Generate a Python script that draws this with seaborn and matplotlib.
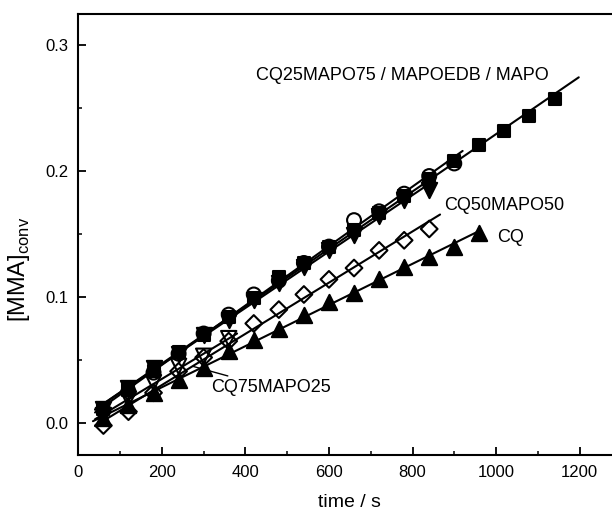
import numpy as np
import pandas as pd
import matplotlib
matplotlib.use("Agg")
import matplotlib.pyplot as plt
import seaborn as sns

# ---------------- data ----------------
t_mapo = [60, 120, 180, 240, 300, 360, 420, 480, 540, 600, 660, 720, 780, 840, 900, 960, 1020, 1080, 1140]
v_mapo = [0.011, 0.026, 0.041, 0.056, 0.070, 0.084, 0.099, 0.116, 0.127, 0.140, 0.153, 0.167, 0.180,
          0.194, 0.208, 0.221, 0.232, 0.244, 0.257]

t_cq25 = [60, 120, 180, 240, 300, 360, 420, 480, 540, 600, 660, 720, 780, 840, 900]
v_cq25 = [0.010, 0.025, 0.040, 0.055, 0.071, 0.086, 0.102, 0.113, 0.127, 0.140, 0.161, 0.168, 0.182,
          0.196, 0.206]

t_edb = [60, 120, 180, 240, 300, 360, 420, 480, 540, 600, 660, 720, 780, 840]
v_edb = [0.011, 0.028, 0.044, 0.055, 0.070, 0.082, 0.098, 0.111, 0.124, 0.137, 0.149, 0.164, 0.177, 0.185]

t_cq75 = [60, 120, 180, 240, 300, 360]
v_cq75 = [0.006, 0.019, 0.032, 0.045, 0.053, 0.067]

t_cq50 = [60, 120, 180, 240, 300, 360, 420, 480, 540, 600, 660, 720, 780, 840]
v_cq50 = [-0.002, 0.009, 0.024, 0.041, 0.052, 0.065, 0.079, 0.090, 0.102, 0.114, 0.123, 0.137, 0.145, 0.154]

t_cq = [60, 120, 180, 240, 300, 360, 420, 480, 540, 600, 660, 720, 780, 840, 900, 960]
v_cq = [0.004, 0.014, 0.024, 0.034, 0.044, 0.057, 0.066, 0.075, 0.086, 0.096, 0.103, 0.114, 0.124,
        0.132, 0.140, 0.151]

# time span covered by each fitted line
fit_mapo = [40, 1198]
fit_cq25 = [40, 920]
fit_edb = [40, 850]
fit_cq75 = [40, 380]
fit_cq50 = [40, 866]
fit_cq = [35, 960]

x_ticks = [0, 200, 400, 600, 800, 1000, 1200]
y_ticks = [0.0, 0.1, 0.2, 0.3]

# ---------------- style ----------------
sns.set_style("ticks")
plt.rcParams['font.family'] = ['Liberation Sans', 'DejaVu Sans']
plt.rcParams['mathtext.fontset'] = 'custom'
plt.rcParams['mathtext.rm'] = 'Liberation Sans'
plt.rcParams['text.color'] = 'black'
plt.rcParams['axes.labelcolor'] = 'black'

fig = plt.figure(figsize=(6.12, 5.15), dpi=100)
ax = fig.add_axes([0.128, 0.1165, 0.8873, 0.8563])

series = [
    (t_mapo, v_mapo, fit_mapo, 's', 'black', 8.5),
    (t_cq25, v_cq25, fit_cq25, 'o', 'none', 10.0),
    (t_edb, v_edb, fit_edb, 'v', 'black', 11.0),
    (t_cq75, v_cq75, fit_cq75, 'v', 'none', 11.0),
    (t_cq50, v_cq50, fit_cq50, 'D', 'none', 8.5),
    (t_cq, v_cq, fit_cq, '^', 'black', 11.0),
]

for t, v, span, mk, fc, ms in series:
    coef = np.polyfit(t, v, 1)
    xs = np.array(span, dtype=float)
    line_df = pd.DataFrame({'t': xs, 'v': np.polyval(coef, xs)})
    sns.lineplot(data=line_df, x='t', y='v', ax=ax, color='black', lw=1.5, zorder=2)
    pts = pd.DataFrame({'t': t, 'v': v})
    sns.scatterplot(data=pts, x='t', y='v', ax=ax, marker=mk, s=ms ** 2,
                    facecolors=fc, edgecolors='black', linewidths=1.5, zorder=3)

ax.set_xlim(0, 1300)
ax.set_ylim(-0.0254, 0.3246)
ax.set_xticks(x_ticks)
ax.set_yticks(y_ticks)
ax.set_xticks(np.arange(100, 1300, 200), minor=True)
ax.set_yticks([0.05, 0.15, 0.25], minor=True)
ax.set_yticklabels([f"{y:.1f}" for y in y_ticks])
ax.tick_params(axis='both', which='major', direction='in', length=6, width=1.3,
               labelsize=12, pad=7, colors='black')
ax.tick_params(axis='both', which='minor', direction='in', length=3, width=1.3)
for sp in ax.spines.values():
    sp.set_linewidth(1.5)
    sp.set_color('black')

ax.set_xlabel('time / s', fontsize=14, labelpad=10)
ax.set_ylabel(r'[MMA]$_{\mathregular{conv}}$', fontsize=17)
ax.yaxis.set_label_coords(-0.085, 0.42)

ax.text(425, 0.276, 'CQ25MAPO75 / MAPOEDB / MAPO', fontsize=13, va='center', ha='left')
ax.text(876, 0.173, 'CQ50MAPO50', fontsize=13, va='center', ha='left')
ax.text(1003, 0.147, 'CQ', fontsize=13, va='center', ha='left')
ax.annotate('CQ75MAPO25', xy=(274, 0.045), xytext=(317, 0.028), fontsize=13,
            va='center', ha='left',
            arrowprops=dict(arrowstyle='-', color='black', lw=1.0, shrinkA=0, shrinkB=0))

fig.savefig('out.png', dpi=100)
